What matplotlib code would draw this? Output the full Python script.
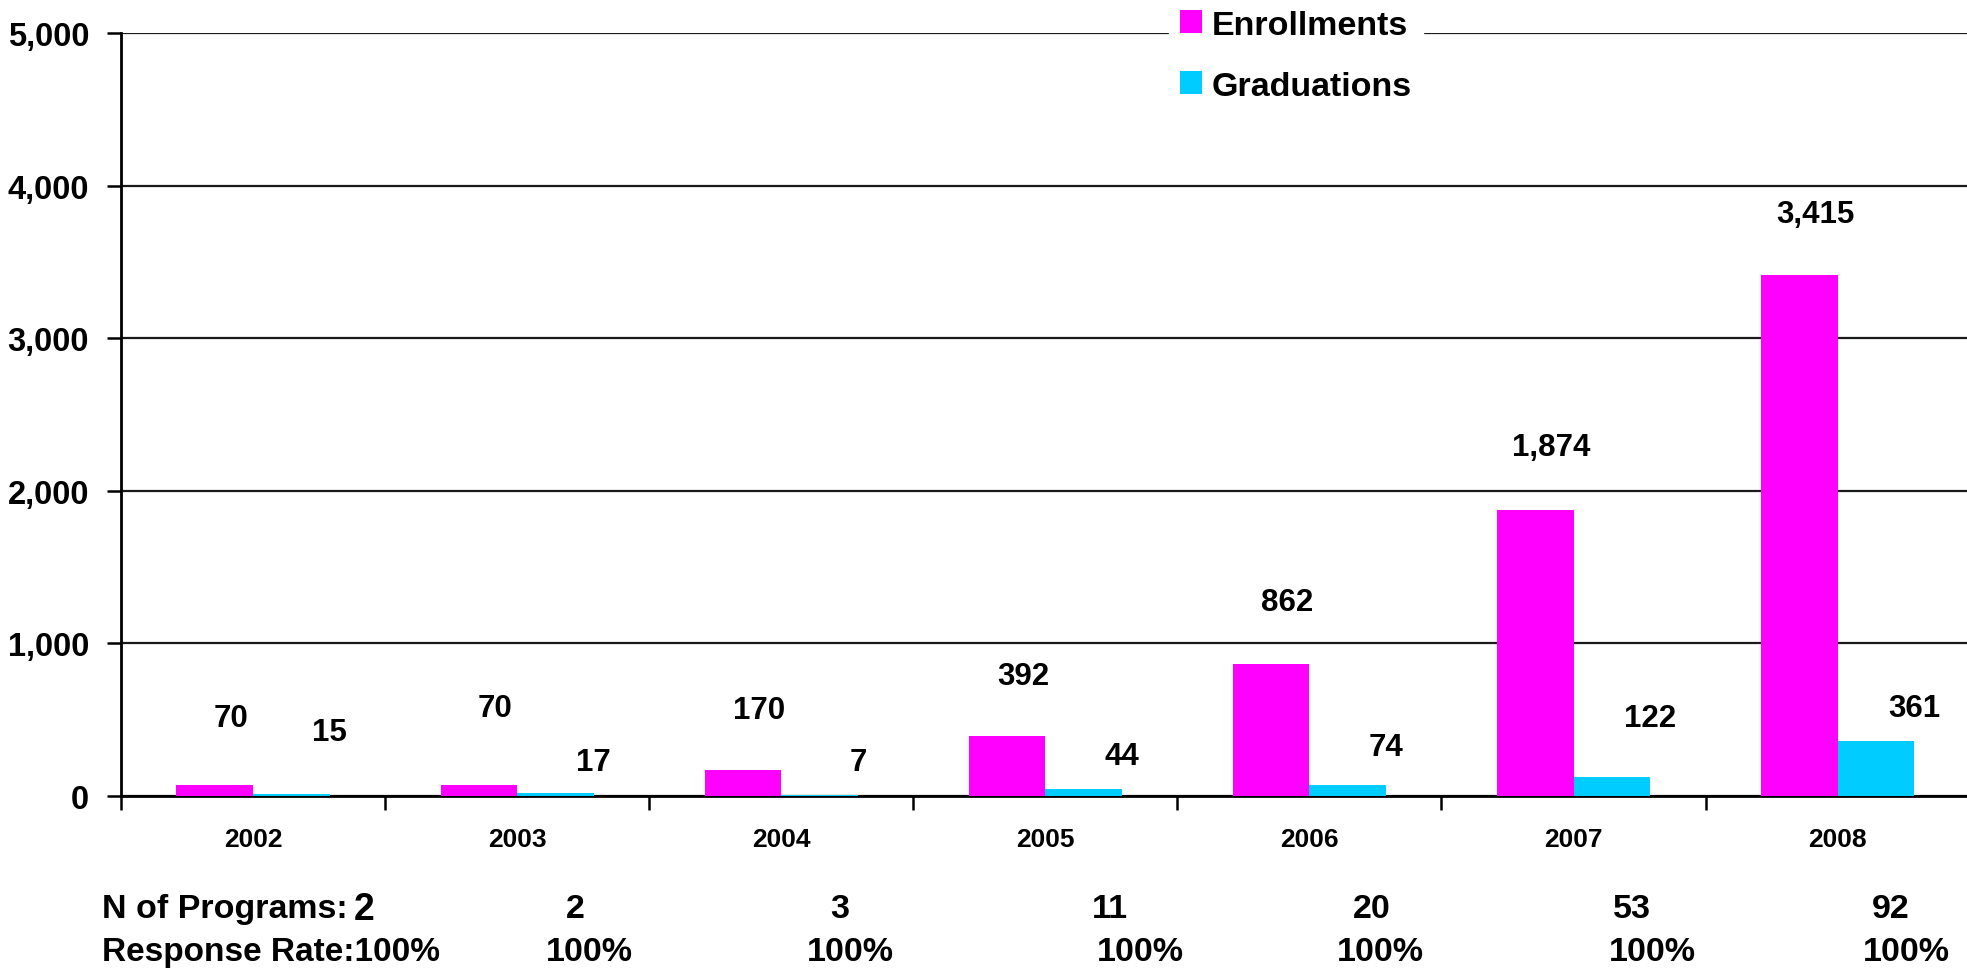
import matplotlib
matplotlib.use("Agg")
import matplotlib.pyplot as plt
import matplotlib.transforms as mtransforms
import numpy as np

plt.rcParams['font.family'] = ['Liberation Sans', 'DejaVu Sans']
plt.rcParams['font.weight'] = 'bold'

# ---- data ----
years = ["2002", "2003", "2004", "2005", "2006", "2007", "2008"]
enrollments = [70, 70, 170, 392, 862, 1874, 3415]
graduations = [15, 17, 7, 44, 74, 122, 361]
n_programs = ["2", "2", "3", "11", "20", "53", "92"]
response_rate = ["100%", "100%", "100%", "100%", "100%", "100%", "100%"]
y_ticks = [0, 1000, 2000, 3000, 4000, 5000]

# ---- layout (label placement, not data) ----
enr_label_y = [511, 577, 564, 786, 1271, 2287, 3814]
grad_label_y = [419, 223, 223, 262, 321, 511, 577]
n_dx = [0.42, 0.22, 0.22, 0.245, 0.235, 0.22, 0.20]
rate_dx = [0.0, 0.275, 0.26, 0.36, 0.27, 0.30, 0.26]

W, H = 1967, 970
fig = plt.figure(figsize=(W / 100, H / 100), dpi=100)
ax = fig.add_axes([121 / W, (H - 797) / H, (1967 - 121) / W * (7 / 6.99), (797 - 34) / H])

x = np.arange(len(years))
bw = 0.29
magenta = "#FF00FF"
cyan = "#00CCFF"
ax.bar(x - bw / 2, enrollments, width=bw, color=magenta, label="Enrollments", zorder=3)
ax.bar(x + bw / 2, graduations, width=bw, color=cyan, label="Graduations", zorder=3)

ax.set_xlim(-0.5, 6.5)
ax.set_ylim(0, 5000)
ax.set_yticks(y_ticks)
ax.set_yticklabels([f"{v:,}" for v in y_ticks], fontsize=23.5, fontweight='bold')
ax.yaxis.grid(True, color="#1a1a1a", linewidth=1.6, zorder=1)
ax.set_axisbelow(True)

ax.set_xticks(x)
ax.set_xticklabels(years, fontsize=19, fontweight='bold')
ax.set_xticks(np.arange(-0.5, 7.0, 1.0), minor=True)
ax.tick_params(axis='x', which='major', length=0, pad=22)
ax.tick_params(axis='x', which='minor', length=10, width=1.8, direction='out')
ax.tick_params(axis='y', length=10, width=1.8, direction='out', pad=13)

for s in ["top", "right"]:
    ax.spines[s].set_visible(False)
for s in ["left", "bottom"]:
    ax.spines[s].set_linewidth(2)
    ax.spines[s].set_color("black")

# data labels
for i in range(len(years)):
    ax.text(x[i] - 0.085, enr_label_y[i], f"{enrollments[i]:,}", ha='center', va='center',
            fontsize=22.5, fontweight='bold')
    ax.text(x[i] + 0.29, grad_label_y[i], f"{graduations[i]:,}", ha='center', va='center',
            fontsize=22.5, fontweight='bold')

# legend
leg = ax.legend(loc='upper left', bbox_to_anchor=(1169 / W, 1.0), bbox_transform=fig.transFigure,
                fontsize=24.5, frameon=True, fancybox=False, borderpad=0.32, labelspacing=0.88,
                handlelength=0.66, handleheight=0.66, handletextpad=0.28, borderaxespad=0)
leg.get_frame().set_facecolor("white")
leg.get_frame().set_edgecolor("white")
leg.get_frame().set_alpha(1)
for t in leg.get_texts():
    t.set_fontweight('bold')
leg.set_zorder(10)

# bottom texts
trans = mtransforms.blended_transform_factory(ax.transData, fig.transFigure)
y1 = (H - 910) / H
y2 = (H - 953) / H
fig.text(102 / W, y1, "N of Programs:", ha='left', va='center', fontsize=24.5, fontweight='bold')
fig.text(102 / W, y2, "Response Rate:" + response_rate[0], ha='left', va='center', fontsize=24,
         fontweight='bold')
for i in range(len(years)):
    fs = 27 if i == 0 else 24.5
    ax.text(x[i] + n_dx[i], y1, n_programs[i], transform=trans, ha='center', va='center',
            fontsize=fs, fontweight='bold', clip_on=False)
    if i > 0:
        ax.text(x[i] + rate_dx[i], y2, response_rate[i], transform=trans, ha='center', va='center',
                fontsize=24.5, fontweight='bold', clip_on=False)

fig.savefig("out.png", dpi=100)
